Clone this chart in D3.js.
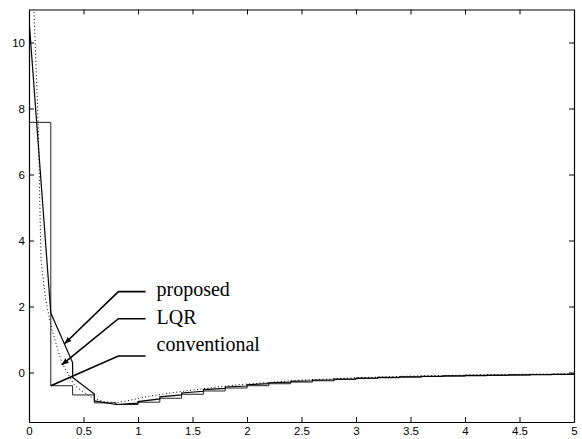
<!DOCTYPE html>
<html><head><meta charset="utf-8">
<script src="https://cdn.jsdelivr.net/npm/d3@7"></script>
<style>body{margin:0;background:#fff}</style>
</head><body>
<svg id="c" width="582" height="439"></svg>
<script>
// ---- data ----
const xTicks = [0,0.5,1,1.5,2,2.5,3,3.5,4,4.5,5];
const xTickLabels = ["0","0.5","1","1.5","2","2.5","3","3.5","4","4.5","5"];
const yTicks = [0,2,4,6,8,10];
const yTickLabels = ["0","2","4","6","8","10"];
// conventional: zero-order-hold value per 0.2 s interval
const convT = [0,0.2,0.4,0.6,0.8,1.0,1.2,1.4,1.6,1.8,2.0,2.2,2.4,2.6,2.8,3.0,3.2,3.4,3.6,3.8,4.0,4.2,4.4,4.6,4.8];
const convV = [7.58,-0.40,-0.68,-0.92,-0.97,-0.90,-0.78,-0.66,-0.56,-0.47,-0.40,-0.34,-0.29,-0.25,-0.21,-0.18,-0.16,-0.14,-0.12,-0.11,-0.10,-0.09,-0.08,-0.07,-0.06];
// proposed: start/end values in each 0.2 s interval
const propT = [0,0.2,0.4,0.6,0.8,1.0,1.2,1.4,1.6,1.8,2.0,2.2,2.4,2.6,2.8,3.0,3.2,3.4,3.6,3.8,4.0,4.2,4.4,4.6,4.8];
const propStart = [10.7,1.8,-0.15,-0.86,-0.97,-0.88,-0.74,-0.62,-0.52,-0.44,-0.37,-0.31,-0.27,-0.23,-0.20,-0.17,-0.15,-0.13,-0.115,-0.10,-0.09,-0.08,-0.07,-0.06,-0.055];
const propEnd   = [1.8,0.3,-0.65,-0.97,-0.93,-0.80,-0.68,-0.57,-0.48,-0.41,-0.34,-0.29,-0.25,-0.22,-0.19,-0.16,-0.14,-0.125,-0.11,-0.095,-0.085,-0.075,-0.065,-0.058,-0.05];
// LQR: continuous response
const lqrT = [0,0.04,0.086,0.11,0.135,0.153,0.21,0.30,0.42,0.56,0.68,0.8,0.9,1.08,1.3,1.5,1.75,2.0,2.5,3.0,3.5,4.0,4.5,5.0];
const lqrV = [17.5,11.5,7.35,3.4,2.7,2.2,1.3,0.3,-0.4,-0.73,-0.88,-0.92,-0.86,-0.73,-0.62,-0.53,-0.43,-0.35,-0.23,-0.16,-0.11,-0.08,-0.055,-0.04];
// annotations
const labels = ["proposed","LQR","conventional"];
const labelY = [2.32,1.48,0.64];
const leaderKinkY = [2.45,1.63,0.5];
const leaderTipX = [0.326,0.30,0.2];
const leaderTipY = [0.87,0.23,-0.4];
const leaderArrow = [true,true,false];

// ---- layout ----
const svg = d3.select("#c");
const L=29, R=574, T=9.5, B=422;
const x = d3.scaleLinear().domain([0,5]).range([L,R]);
const y = d3.scaleLinear().domain([-1.5,11]).range([B,T]);

const defs = svg.append("defs");
defs.append("clipPath").attr("id","clip").append("rect")
  .attr("x",L).attr("y",T).attr("width",R-L).attr("height",B-T);
defs.append("marker").attr("id","arr").attr("viewBox","0 0 10 10")
  .attr("refX",10).attr("refY",5).attr("markerWidth",7).attr("markerHeight",7)
  .attr("markerUnits","userSpaceOnUse").attr("orient","auto")
  .append("path").attr("d","M0,1 L10,5 L0,9 Z").attr("fill","#000");

const plot = svg.append("g").attr("clip-path","url(#clip)");

// conventional staircase
const convPts = [];
convT.forEach((t,i)=>{ convPts.push([t,convV[i]]); convPts.push([t+0.2,convV[i]]); });
const line = d3.line().x(d=>x(d[0])).y(d=>y(d[1]));
plot.append("path").attr("d",line(convPts)).attr("fill","none")
  .attr("stroke","#222").attr("stroke-width",1);

// proposed
const propPts = [];
propT.forEach((t,i)=>{ propPts.push([t,propStart[i]]); propPts.push([t+0.2,propEnd[i]]); });
plot.append("path").attr("d",line(propPts)).attr("fill","none")
  .attr("stroke","#000").attr("stroke-width",1.2);

// LQR dotted
const lqrPts = lqrT.map((t,i)=>[t,lqrV[i]]);
plot.append("path").attr("d",line(lqrPts)).attr("fill","none")
  .attr("stroke","#000").attr("stroke-width",1).attr("stroke-dasharray","1,2.5");

// axes
const fs = "11.5px";
const gB = svg.append("g").attr("transform",`translate(0,${B})`)
  .call(d3.axisBottom(x).tickValues(xTicks).tickFormat((d,i)=>xTickLabels[i]).tickSizeInner(-5).tickSizeOuter(0).tickPadding(4.5));
const gT = svg.append("g").attr("transform",`translate(0,${T})`)
  .call(d3.axisTop(x).tickValues(xTicks).tickFormat("").tickSizeInner(-5).tickSizeOuter(0));
const gL = svg.append("g").attr("transform",`translate(${L},0)`)
  .call(d3.axisLeft(y).tickValues(yTicks).tickFormat((d,i)=>yTickLabels[i]).tickSizeInner(-5).tickSizeOuter(0).tickPadding(4));
const gR = svg.append("g").attr("transform",`translate(${R},0)`)
  .call(d3.axisRight(y).tickValues(yTicks).tickFormat("").tickSizeInner(-5).tickSizeOuter(0));
[gB,gT,gL,gR].forEach(g=>{
  g.select(".domain").attr("stroke","#000").attr("stroke-width",1.2);
  g.selectAll(".tick line").attr("stroke","#000");
  g.selectAll("text").attr("fill","#000").style("font-family","'Liberation Sans',Arial,sans-serif").style("font-size",fs);
});

// annotations
const kinkX = 0.82, endX = 1.07, textX = 1.17;
labels.forEach((lab,i)=>{
  svg.append("path")
    .attr("d", line([[endX,leaderKinkY[i]],[kinkX,leaderKinkY[i]],[leaderTipX[i],leaderTipY[i]]]))
    .attr("fill","none").attr("stroke","#000").attr("stroke-width",1.6)
    .attr("marker-end", leaderArrow[i] ? "url(#arr)" : null);
  svg.append("text").attr("x",x(textX)).attr("y",y(labelY[i]))
    .style("font-family","'Liberation Serif','Times New Roman',serif").style("font-size","20px")
    .attr("fill","#000").text(lab);
});
</script>
</body></html>
